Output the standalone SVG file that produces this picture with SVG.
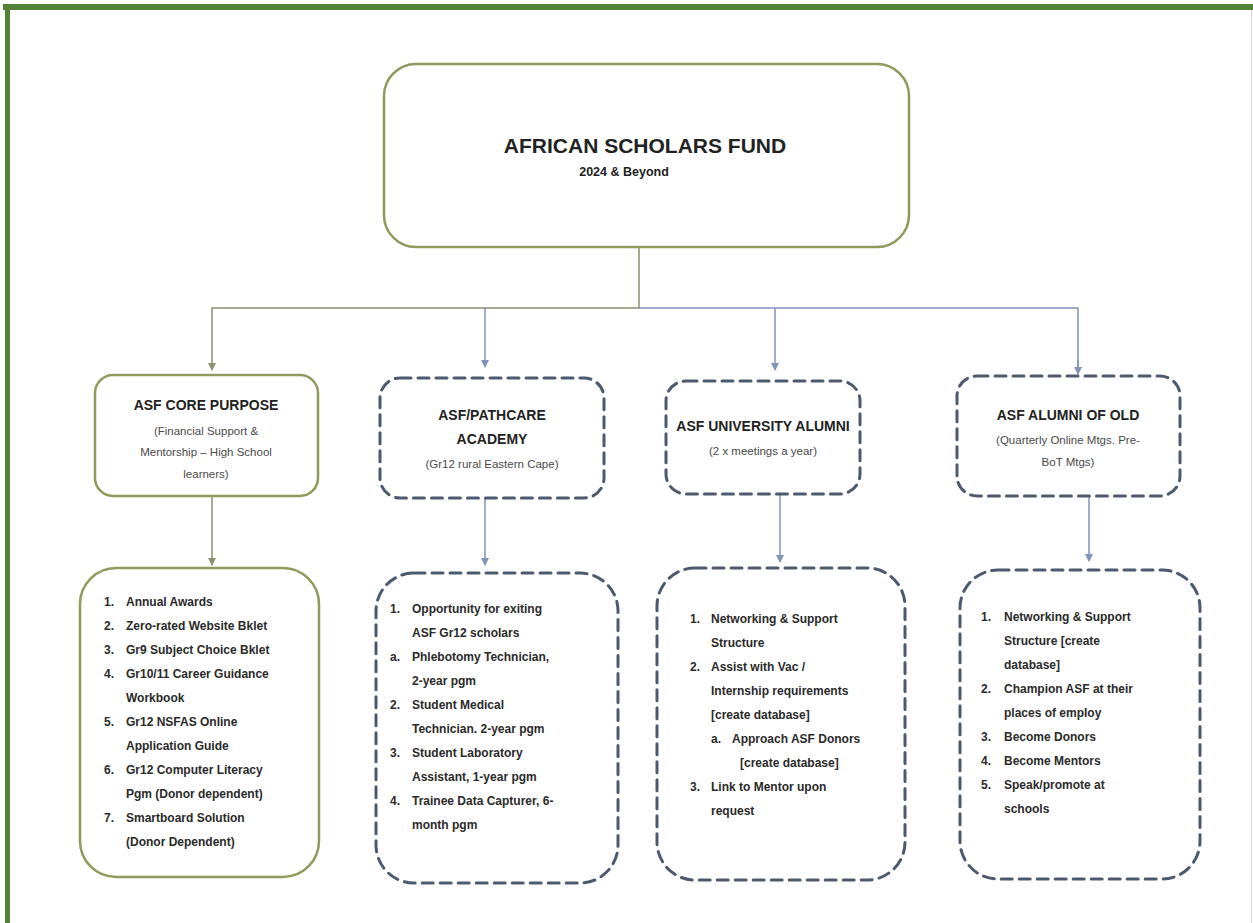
<svg xmlns="http://www.w3.org/2000/svg" width="1253" height="923" viewBox="0 0 1253 923">
<defs>
<style>
.solid{fill:#ffffff;stroke:#8f9a5c;stroke-width:2.5}
.dash{fill:#ffffff;stroke:#4b5a6e;stroke-width:3;stroke-dasharray:11 7;stroke-linecap:round}
.t{font-family:"Liberation Sans",Arial,sans-serif;fill:#222;text-anchor:middle;font-weight:bold}
.s{font-family:"Liberation Sans",Arial,sans-serif;fill:#4a4a4a;text-anchor:middle;font-size:11.5px}
.l{font-family:"Liberation Sans",Arial,sans-serif;fill:#2a2a2a;font-size:12px;font-weight:bold}
.cg{stroke:#8a9070;stroke-width:1.5;fill:none}
.cb{stroke:#7f93b8;stroke-width:1.5;fill:none}
</style>
<marker id="ag" markerWidth="8" markerHeight="8" refX="7" refY="4" orient="auto" markerUnits="userSpaceOnUse"><path d="M0,0 L8,4 L0,8 z" fill="#8a9070"/></marker>
<marker id="ab" markerWidth="8" markerHeight="8" refX="7" refY="4" orient="auto" markerUnits="userSpaceOnUse"><path d="M0,0 L8,4 L0,8 z" fill="#7f93b8"/></marker>
</defs>
<rect x="0" y="0" width="1253" height="923" fill="#ffffff"/>
<rect x="3" y="4" width="1250" height="6" fill="#538135"/>
<rect x="5" y="4" width="5" height="919" fill="#538135"/>
<line x1="1251.5" y1="10" x2="1251.5" y2="923" stroke="#d8d8d0" stroke-width="1"/>

<g id="connectors">
<path class="cg" d="M639,247 V308 H212 V370" marker-end="url(#ag)"/>
<path class="cb" d="M485,308 V367" marker-end="url(#ab)"/>
<path class="cb" d="M639,308 H1078 V373" />
<path class="cb" d="M1078,360 V374" marker-end="url(#ab)"/>
<path class="cb" d="M775,308 V370" marker-end="url(#ab)"/>
<path class="cg" d="M212,497 V565" marker-end="url(#ag)"/>
<path class="cb" d="M485,499 V565" marker-end="url(#ab)"/>
<path class="cb" d="M780,495 V562" marker-end="url(#ab)"/>
<path class="cb" d="M1089,497 V561" marker-end="url(#ab)"/>
</g>

<g id="top">
<rect class="solid" x="384" y="64" width="525" height="183" rx="32"/>
<text class="t" x="645" y="153" font-size="21">AFRICAN SCHOLARS FUND</text>
<text class="t" x="624" y="176" font-size="12.5">2024 &amp; Beyond</text>
</g>

<g id="core">
<rect class="solid" x="95" y="375" width="223" height="121" rx="18"/>
<text class="t" x="206" y="410" font-size="14">ASF CORE PURPOSE</text>
<text class="s" x="206" y="435">(Financial Support &amp;</text>
<text class="s" x="206" y="456">Mentorship – High School</text>
<text class="s" x="206" y="478">learners)</text>
</g>

<g id="pathcare">
<rect class="dash" x="380" y="378" width="224" height="120" rx="20"/>
<text class="t" x="492" y="420" font-size="14">ASF/PATHCARE</text>
<text class="t" x="492" y="444" font-size="14">ACADEMY</text>
<text class="s" x="492" y="468">(Gr12 rural Eastern Cape)</text>
</g>

<g id="univ">
<rect class="dash" x="666" y="381" width="194" height="113" rx="20"/>
<text class="t" x="763" y="431" font-size="14">ASF UNIVERSITY ALUMNI</text>
<text class="s" x="763" y="455">(2 x meetings a year)</text>
</g>

<g id="old">
<rect class="dash" x="957" y="376" width="223" height="120" rx="20"/>
<text class="t" x="1068" y="420" font-size="14">ASF ALUMNI OF OLD</text>
<text class="s" x="1068" y="444">(Quarterly Online Mtgs. Pre-</text>
<text class="s" x="1068" y="466">BoT Mtgs)</text>
</g>

<g id="core-list">
<rect class="solid" x="80" y="568" width="239" height="309" rx="36"/>
<text class="l" y="606"><tspan x="104">1.</tspan><tspan x="126">Annual Awards</tspan></text>
<text class="l" y="630"><tspan x="104">2.</tspan><tspan x="126">Zero-rated Website Bklet</tspan></text>
<text class="l" y="654"><tspan x="104">3.</tspan><tspan x="126">Gr9 Subject Choice Bklet</tspan></text>
<text class="l" y="678"><tspan x="104">4.</tspan><tspan x="126">Gr10/11 Career Guidance</tspan></text>
<text class="l" y="702"><tspan x="126">Workbook</tspan></text>
<text class="l" y="726"><tspan x="104">5.</tspan><tspan x="126">Gr12 NSFAS Online</tspan></text>
<text class="l" y="750"><tspan x="126">Application Guide</tspan></text>
<text class="l" y="774"><tspan x="104">6.</tspan><tspan x="126">Gr12 Computer Literacy</tspan></text>
<text class="l" y="798"><tspan x="126">Pgm (Donor dependent)</tspan></text>
<text class="l" y="822"><tspan x="104">7.</tspan><tspan x="126">Smartboard Solution</tspan></text>
<text class="l" y="846"><tspan x="126">(Donor Dependent)</tspan></text>
</g>

<g id="pathcare-list">
<rect class="dash" x="376" y="573" width="242" height="310" rx="38"/>
<text class="l" y="613"><tspan x="390">1.</tspan><tspan x="412">Opportunity for exiting</tspan></text>
<text class="l" y="637"><tspan x="412">ASF Gr12 scholars</tspan></text>
<text class="l" y="661"><tspan x="390">a.</tspan><tspan x="412">Phlebotomy Technician,</tspan></text>
<text class="l" y="685"><tspan x="412">2-year pgm</tspan></text>
<text class="l" y="709"><tspan x="390">2.</tspan><tspan x="412">Student Medical</tspan></text>
<text class="l" y="733"><tspan x="412">Technician. 2-year pgm</tspan></text>
<text class="l" y="757"><tspan x="390">3.</tspan><tspan x="412">Student Laboratory</tspan></text>
<text class="l" y="781"><tspan x="412">Assistant, 1-year pgm</tspan></text>
<text class="l" y="805"><tspan x="390">4.</tspan><tspan x="412">Trainee Data Capturer, 6-</tspan></text>
<text class="l" y="829"><tspan x="412">month pgm</tspan></text>
</g>

<g id="univ-list">
<rect class="dash" x="657" y="568" width="248" height="312" rx="38"/>
<text class="l" y="623"><tspan x="690">1.</tspan><tspan x="711">Networking &amp; Support</tspan></text>
<text class="l" y="647"><tspan x="711">Structure</tspan></text>
<text class="l" y="671"><tspan x="690">2.</tspan><tspan x="711">Assist with Vac /</tspan></text>
<text class="l" y="695"><tspan x="711">Internship requirements</tspan></text>
<text class="l" y="719"><tspan x="711">[create database]</tspan></text>
<text class="l" y="743"><tspan x="711">a.</tspan><tspan x="732">Approach ASF Donors</tspan></text>
<text class="l" y="767"><tspan x="740">[create database]</tspan></text>
<text class="l" y="791"><tspan x="690">3.</tspan><tspan x="711">Link to Mentor upon</tspan></text>
<text class="l" y="815"><tspan x="711">request</tspan></text>
</g>

<g id="old-list">
<rect class="dash" x="960" y="570" width="240" height="309" rx="38"/>
<text class="l" y="621"><tspan x="981">1.</tspan><tspan x="1004">Networking &amp; Support</tspan></text>
<text class="l" y="645"><tspan x="1004">Structure [create</tspan></text>
<text class="l" y="669"><tspan x="1004">database]</tspan></text>
<text class="l" y="693"><tspan x="981">2.</tspan><tspan x="1004">Champion ASF at their</tspan></text>
<text class="l" y="717"><tspan x="1004">places of employ</tspan></text>
<text class="l" y="741"><tspan x="981">3.</tspan><tspan x="1004">Become Donors</tspan></text>
<text class="l" y="765"><tspan x="981">4.</tspan><tspan x="1004">Become Mentors</tspan></text>
<text class="l" y="789"><tspan x="981">5.</tspan><tspan x="1004">Speak/promote at</tspan></text>
<text class="l" y="813"><tspan x="1004">schools</tspan></text>
</g>
</svg>
